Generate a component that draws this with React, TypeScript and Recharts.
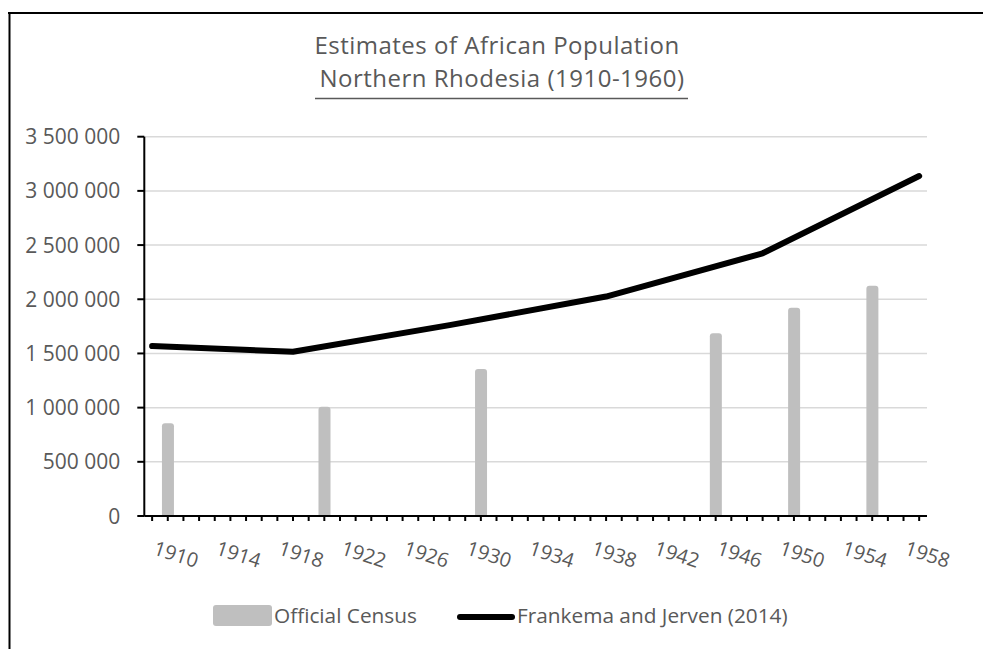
import React from "react";
import { ComposedChart, Bar, Line, XAxis, YAxis, CartesianGrid } from "recharts";

// Yearly category axis
const years = [
  1910, 1911, 1912, 1913, 1914, 1915, 1916, 1917, 1918, 1919,
  1920, 1921, 1922, 1923, 1924, 1925, 1926, 1927, 1928, 1929,
  1930, 1931, 1932, 1933, 1934, 1935, 1936, 1937, 1938, 1939,
  1940, 1941, 1942, 1943, 1944, 1945, 1946, 1947, 1948, 1949,
  1950, 1951, 1952, 1953, 1954, 1955, 1956, 1957, 1958, 1959,
];

// Official census counts
const censusYears = [1911, 1921, 1931, 1946, 1951, 1956];
const censusValues = [855000, 1008000, 1356000, 1686000, 1922000, 2125000];

// Frankema and Jerven (2014) reconstruction
const estimateYears = [1910, 1919, 1929, 1939, 1949, 1959];
const estimateValues = [1568000, 1516000, 1761000, 2025000, 2424000, 3137000];

const yTicks = [0, 500000, 1000000, 1500000, 2000000, 2500000, 3000000, 3500000];
const labelledYears = [1910, 1914, 1918, 1922, 1926, 1930, 1934, 1938, 1942, 1946, 1950, 1954, 1958];

const titleLine1 = "Estimates of African Population";
const titleLine2 = "Northern Rhodesia (1910-1960)";
const legendCensus = "Official Census";
const legendEstimate = "Frankema and Jerven (2014)";

const data = years.map((year) => {
  const ci = censusYears.indexOf(year);
  const ei = estimateYears.indexOf(year);
  return {
    year,
    census: ci >= 0 ? censusValues[ci] : null,
    estimate: ei >= 0 ? estimateValues[ei] : null,
  };
});

const TEXT = "#595959";
const FONT = "'Open Sans', sans-serif";

const fmt = (v: number) => String(v).replace(/\B(?=(\d{3})+(?!\d))/g, " ");

const YTick = (props: any) => {
  const { x, y, payload } = props;
  return (
    <text x={x} y={y} dy="0.36em" textAnchor="end" fill={TEXT} fontSize={21} fontFamily={FONT}>
      {fmt(payload.value)}
    </text>
  );
};

const XTick = (props: any) => {
  const { x, y, payload } = props;
  if (!labelledYears.includes(payload.value)) return null;
  const bx = x;
  const by = y + 33;
  return (
    <text
      x={bx}
      y={by}
      textAnchor="start"
      fill={TEXT}
      fontSize={20}
      fontFamily={FONT}
      transform={`rotate(18, ${bx}, ${by})`}
    >
      {payload.value}
    </text>
  );
};

export default function App() {
  return (
    <div
      style={{
        position: "absolute",
        left: 0,
        top: 0,
        width: 983,
        height: 649,
        background: "#fff",
        overflow: "hidden",
        fontFamily: FONT,
      }}
    >
      <ComposedChart
        width={983}
        height={649}
        data={data}
        margin={{ top: 136.7, right: 56, bottom: 0, left: 0 }}
      >
        <CartesianGrid vertical={false} stroke="#d9d9d9" strokeWidth={1.5} />
        <XAxis
          dataKey="year"
          type="category"
          interval={0}
          height={133}
          tickSize={5}
          tickMargin={0}
          axisLine={{ stroke: "#000", strokeWidth: 2 }}
          tickLine={{ stroke: "#000", strokeWidth: 2 }}
          tick={<XTick />}
        />
        <YAxis
          width={144.3}
          domain={[0, 3500000]}
          ticks={yTicks}
          interval={0}
          tickSize={7}
          tickMargin={17}
          axisLine={{ stroke: "#000", strokeWidth: 2 }}
          tickLine={{ stroke: "#000", strokeWidth: 2 }}
          tick={<YTick />}
        />
        <Bar
          dataKey="census"
          fill="#bfbfbf"
          barSize={12}
          radius={[3, 3, 0, 0]}
          isAnimationActive={false}
        />
        <Line
          dataKey="estimate"
          type="linear"
          stroke="#000"
          strokeWidth={6}
          strokeLinecap="round"
          strokeLinejoin="round"
          dot={false}
          activeDot={false}
          connectNulls
          isAnimationActive={false}
        />
      </ComposedChart>

      <svg
        width={983}
        height={649}
        style={{ position: "absolute", left: 0, top: 0, pointerEvents: "none" }}
      >
        {/* chart frame */}
        <line x1={8} y1={13} x2={983} y2={13} stroke="#000" strokeWidth={2} />
        <line x1={9.5} y1={12} x2={9.5} y2={649} stroke="#000" strokeWidth={2} />

        {/* two-line title */}
        <text x={497} y={54.3} textAnchor="middle" fill={TEXT} fontSize={24} letterSpacing={0.5} fontFamily={FONT}>
          {titleLine1}
        </text>
        <text x={502} y={87.2} textAnchor="middle" fill={TEXT} fontSize={24} letterSpacing={0.5} fontFamily={FONT}>
          {titleLine2}
        </text>
        <line x1={315} y1={98.5} x2={688} y2={98.5} stroke={TEXT} strokeWidth={1.6} />

        {/* legend */}
        <rect x={213} y={605} width={59} height={21} rx={3} fill="#bfbfbf" />
        <text x={274} y={622.5} fill={TEXT} fontSize={20.8} fontFamily={FONT}>
          {legendCensus}
        </text>
        <line x1={460} y1={617} x2={512} y2={617} stroke="#000" strokeWidth={6} strokeLinecap="round" />
        <text x={517} y={622.5} fill={TEXT} fontSize={20.8} fontFamily={FONT}>
          {legendEstimate}
        </text>
      </svg>
    </div>
  );
}
